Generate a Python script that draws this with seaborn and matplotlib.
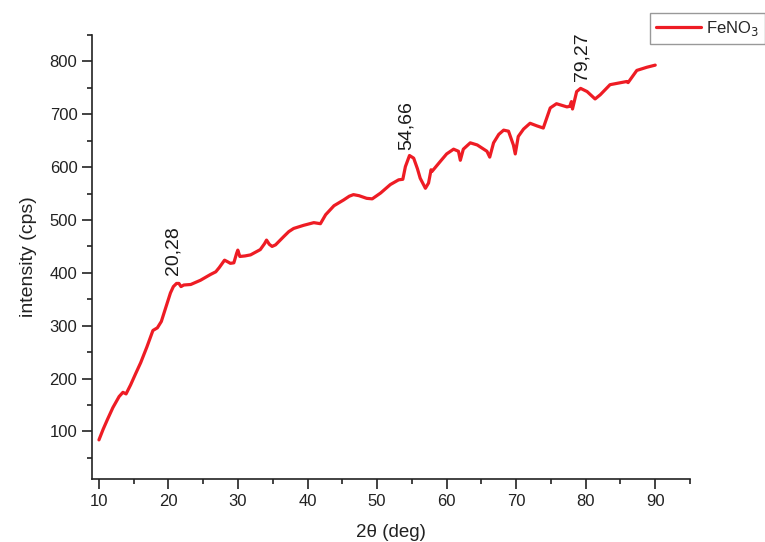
import matplotlib
matplotlib.use("Agg")
import matplotlib.pyplot as plt
from matplotlib.ticker import MultipleLocator
import pandas as pd
import seaborn as sns

# XRD scan of FeNO3: diffraction angle 2-theta (deg) vs intensity (cps)
two_theta = [
    10.0, 10.6, 11.2, 12.0, 12.9, 13.45, 13.9, 14.55, 15.3, 16.0,
    16.9, 17.76, 18.4, 18.97, 19.6, 20.28, 20.7, 21.16, 21.5, 21.8,
    22.2, 23.2, 24.6, 26.05, 26.8, 27.3, 28.06, 28.5, 28.9, 29.4,
    29.8, 29.97, 30.26, 31.0, 31.8, 33.2, 33.8, 34.1, 34.5, 34.9,
    35.4, 36.6, 37.3, 38.0, 39.45, 40.9, 41.85, 42.6, 43.8, 45.2,
    46.0, 46.6, 47.4, 48.5, 49.3, 50.5, 51.9, 53.1, 53.7, 54.07,
    54.66, 55.26, 55.8, 56.2, 56.95, 57.4, 57.76, 57.9, 59.1, 60.0,
    61.0, 61.7, 61.97, 62.4, 63.4, 64.4, 65.8, 66.2, 66.75, 67.5,
    68.2, 68.9, 69.6, 69.87, 70.3, 71.06, 72.0, 73.0, 73.9, 74.9,
    75.8, 77.3, 77.7, 77.95, 78.1, 78.7, 79.27, 80.2, 81.35, 82.1,
    83.5, 85.9, 86.1, 87.35, 88.8, 90.0,
]
intensity = [
    84, 104, 122, 145, 166, 174, 171, 188, 210, 230,
    260, 291, 296, 308, 334, 362, 374, 380, 380, 374,
    377, 378, 386, 397, 402, 410, 424, 421, 418, 419,
    437, 443, 431, 432, 434, 444, 455, 462, 454, 450,
    453, 469, 478, 484, 490, 495, 493, 510, 527, 538,
    545, 548, 546, 541, 540, 551, 567, 576, 577, 601,
    622, 617, 597, 579, 560, 570, 595, 592, 611, 625,
    634, 630, 613, 634, 646, 642, 630, 619, 646, 662,
    670, 668, 642, 625, 658, 672, 683, 678, 674, 712,
    720, 714, 715, 724, 710, 743, 749, 743, 729, 737,
    756, 762, 760, 783, 789, 793,
]

# labelled reflections (peak position, intensity at the peak)
peak_labels = ["20,28", "54,66", "79,27"]
peak_pos = [20.28, 54.66, 79.27]
peak_int = [362, 622, 749]
label_offsets = [(2, 13), (-2, 4), (1, 5)]  # points

df = pd.DataFrame({"two_theta": two_theta, "intensity": intensity})

sns.set_style("ticks")
plt.rcParams["font.family"] = ["Liberation Sans", "DejaVu Sans"]
plt.rcParams["axes.linewidth"] = 1.2

W, H = 765, 542
fig = plt.figure(figsize=(W / 100, H / 100), dpi=100)
ax = fig.add_axes([92 / W, 1 - 479 / H, (690 - 92) / W, (479 - 35) / H])

red = "#ee1c24"
sns.lineplot(data=df, x="two_theta", y="intensity", ax=ax, color=red,
             linewidth=2.3, label="FeNO$_3$", sort=False)

for txt, px, py, off in zip(peak_labels, peak_pos, peak_int, label_offsets):
    ax.annotate(txt, xy=(px, py), xytext=off, textcoords="offset points",
                rotation=90, ha="center", va="bottom", fontsize=14,
                color="#1a1a1a")

ax.set_xlim(9, 95)
ax.set_ylim(10, 850)
ax.xaxis.set_major_locator(MultipleLocator(10))
ax.xaxis.set_minor_locator(MultipleLocator(5))
ax.yaxis.set_major_locator(MultipleLocator(100))
ax.yaxis.set_minor_locator(MultipleLocator(50))
ax.set_xticks(range(10, 91, 10))
ax.set_yticks(range(100, 801, 100))

ax.tick_params(which="major", direction="out", length=7, width=1.2,
               labelsize=12, color="#222222", labelcolor="#222222", pad=3.5)
ax.tick_params(which="minor", direction="out", length=3.5, width=1.2,
               color="#222222")

ax.set_xlabel("2θ (deg)", fontsize=13.5, color="#222222", labelpad=11)
ax.set_ylabel("intensity (cps)", fontsize=14, color="#222222", labelpad=9)

sns.despine(ax=ax)
for s in ("left", "bottom"):
    ax.spines[s].set_color("#222222")

leg = ax.legend(loc="upper left", bbox_to_anchor=(650 / W, 1 - 13 / H),
                bbox_transform=fig.transFigure, fontsize=12, frameon=True,
                fancybox=False, framealpha=1, edgecolor="#999999",
                handlelength=2.7, handletextpad=0.3, borderpad=0.35,
                borderaxespad=0)
leg.get_frame().set_linewidth(1.0)

fig.savefig("out.png", dpi=100)
